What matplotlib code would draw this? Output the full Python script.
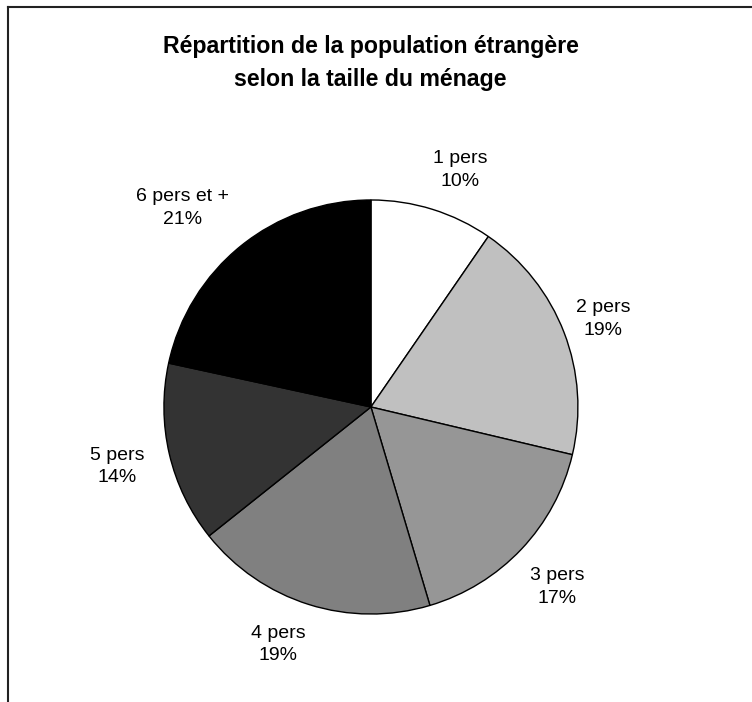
import numpy as np
import matplotlib.pyplot as plt
from matplotlib.lines import Line2D

plt.rcParams['font.family'] = ['Liberation Sans', 'DejaVu Sans']

# Data
categories = ['1 pers', '2 pers', '3 pers', '4 pers', '5 pers', '6 pers et +']
shares = [9.6, 19.1, 16.7, 18.9, 14.1, 21.6]
pct_labels = ['10%', '19%', '17%', '19%', '14%', '21%']
colors = ['#FFFFFF', '#C0C0C0', '#969696', '#808080', '#333333', '#000000']

# label placement: distance (in radii) and angular shift (deg, + = counter-clockwise)
label_dist = [1.223, 1.20, 1.25, 1.23, 1.26, 1.325]
label_shift = [-3.3, -0.3, -0.7, -3.9, 0.0, 4.6]

fig = plt.figure(figsize=(7.52, 7.02), dpi=100)
ax = fig.add_axes([0, 0, 1, 1])

wedges, _ = ax.pie(shares, colors=colors, startangle=90, counterclock=False,
                   wedgeprops=dict(edgecolor='black', linewidth=1.0))

for w, c, p, d, s in zip(wedges, categories, pct_labels, label_dist, label_shift):
    mid = np.deg2rad((w.theta1 + w.theta2) / 2 + s)
    ax.text(d * np.cos(mid), d * np.sin(mid), c + '\n' + p, ha='center', va='center',
            fontsize=14, linespacing=1.4)

ax.set_xlim(-1.792, 1.841)
ax.set_ylim(-1.425, 1.966)
ax.set_aspect('auto')
ax.axis('off')

fig.text(0.493, 1 - 63 / 702, 'Répartition de la population étrangère\nselon la taille du ménage',
         ha='center', va='center', fontsize=16.7, fontweight='bold', linespacing=1.6)

# chart frame (only top and left edges are visible)
fig.add_artist(Line2D([8 / 752, 1], [1 - 7 / 702, 1 - 7 / 702], transform=fig.transFigure,
                      color='#222222', lw=1.5))
fig.add_artist(Line2D([8 / 752, 8 / 752], [0, 1 - 7 / 702], transform=fig.transFigure,
                      color='#222222', lw=1.5))

plt.savefig('out.png', dpi=100)
plt.close()
